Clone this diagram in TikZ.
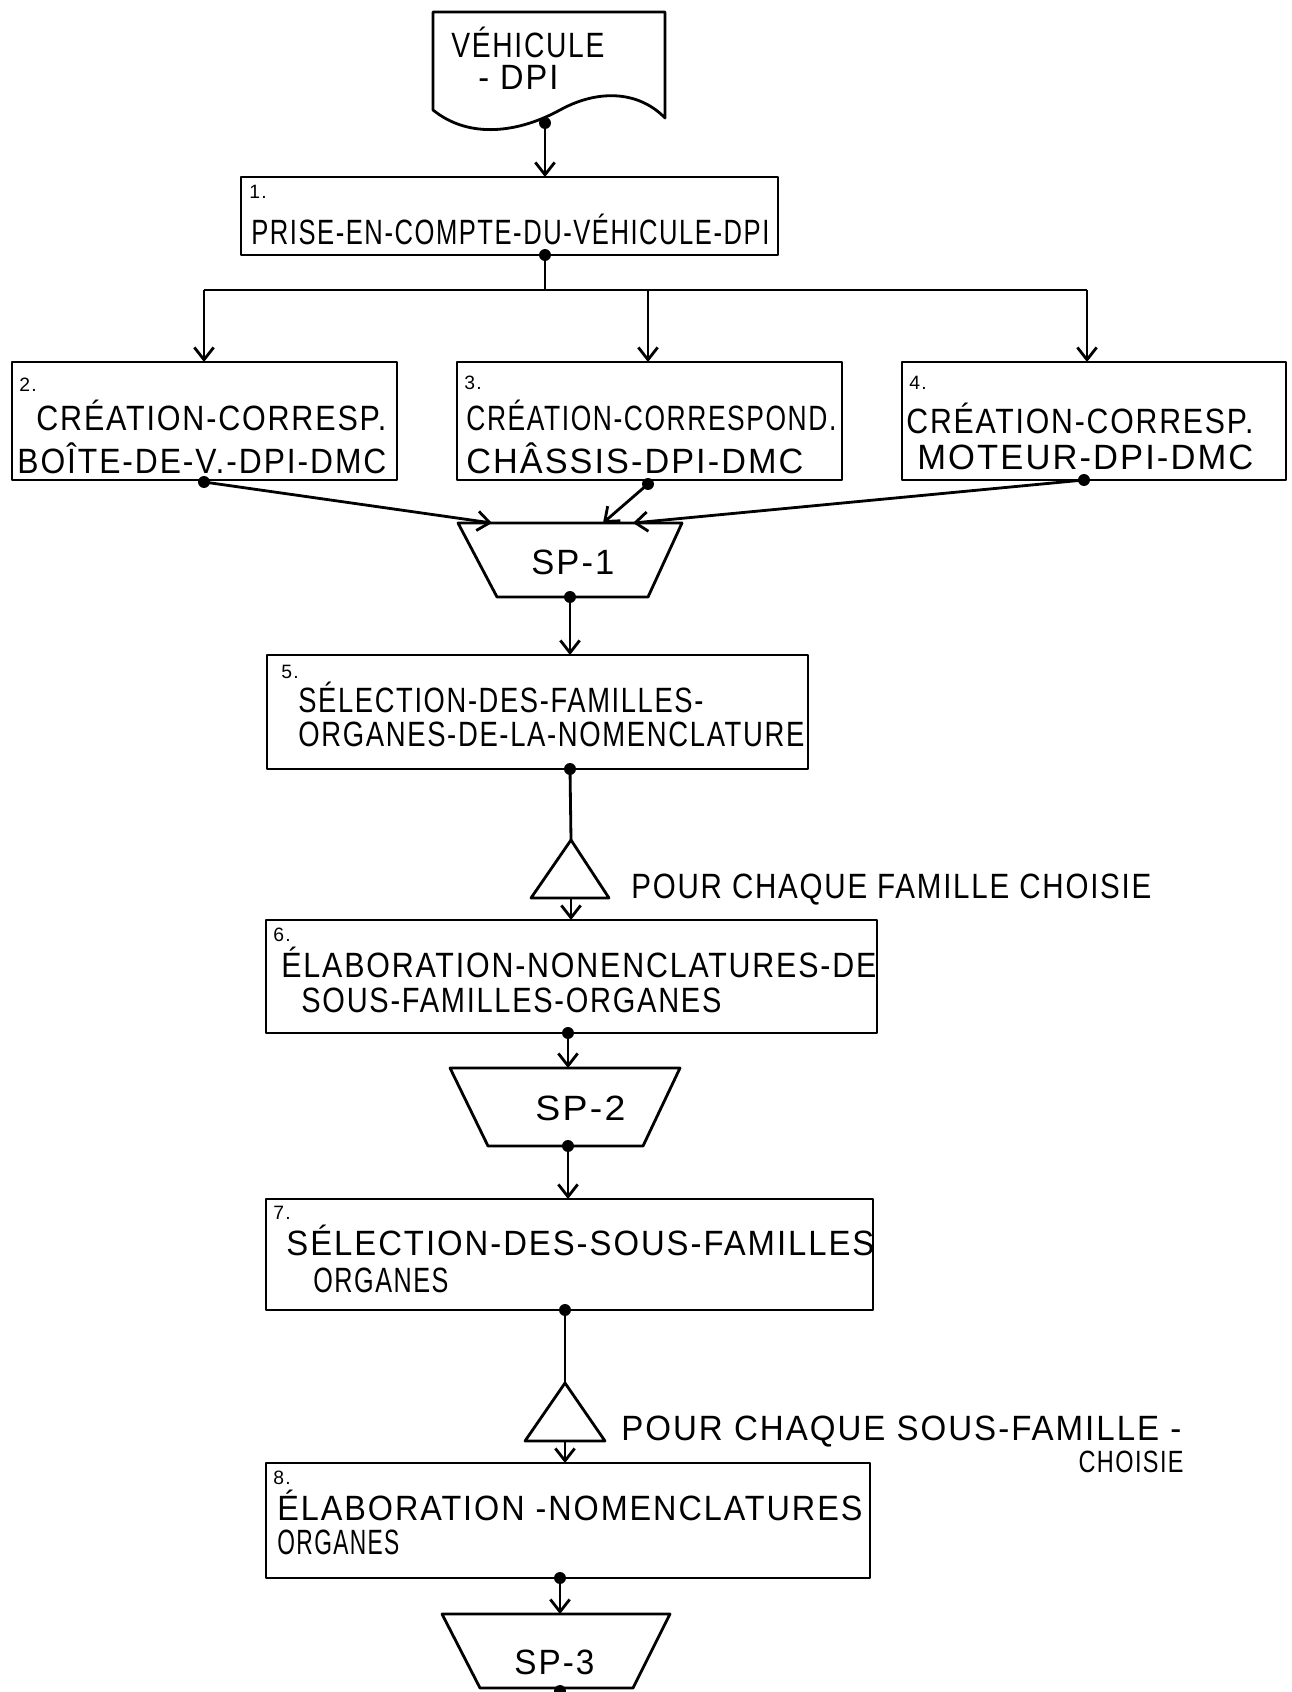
\documentclass[tikz,border=0pt]{standalone}
\usepackage{fontspec}
\usepackage{graphicx}
\setmainfont[LetterSpace=6]{Liberation Sans}
\usetikzlibrary{arrows.meta,calc}
\newcommand\hsz[1]{\fontsize{#1}{#1}\selectfont}
\newlength\tmpw
% fit text to a width given in px (0.02cm each), stretched vertically
\newcommand\fitw[2]{\settowidth\tmpw{#2}\pgfmathsetmacro\sfac{(#1*0.02cm)/\tmpw}\scalebox{\sfac}[1.25]{#2}}
\newcommand\mybox[5]{\node[boxst, minimum width={(#4-#2)*0.02cm}, minimum height={(#5-#3)*0.02cm}] (#1) at ({(#2+#4)/2},{(#3+#5)/2}) {};}
\begin{document}
\begin{tikzpicture}[x=0.02cm,y=-0.02cm, line width=1.6pt, line join=round,
  boxst/.style={draw, rectangle, inner sep=0pt, outer sep=0pt},
  lbl/.style={anchor=west, inner sep=0pt, font=\hsz{16}},
  num/.style={anchor=west, inner sep=0pt, font=\hsz{11}},
  arr/.style={-{Straight Barb[length=7pt,width=11pt,line width=1.6pt]}}]
\useasboundingbox (0,0) rectangle (1291,1692);
% document
\draw (433,12) -- (665,12) -- (665,118) .. controls (640,92) and (600,88) .. (560,110) .. controls (520,132) and (470,140) .. (433,110) -- cycle;
\node[lbl] (doct1) at (450,42) {\fitw{153}{VÉHICULE}};
\node[lbl] (doct2) at (477,77) {\fitw{80}{- DPI}};
\coordinate (docd) at (545,123);
% boxes
\mybox{b1}{241}{177}{778}{255}
\mybox{b2}{12}{362}{397}{480}
\mybox{b3}{457}{362}{842}{480}
\mybox{b4}{902}{362}{1286}{480}
\mybox{b5}{267}{655}{808}{769}
\mybox{b6}{266}{920}{877}{1033}
\mybox{b7}{266}{1199}{873}{1310}
\mybox{b8}{266}{1463}{870}{1578}
% texts
\node[num] (n1) at (248,192) {1.};
\node[lbl] (t1) at (250,229) {\fitw{518}{PRISE-EN-COMPTE-DU-VÉHICULE-DPI}};
\node[num] (n2) at (18,385) {2.};
\node[lbl] (t2a) at (35,415) {\fitw{350}{CRÉATION-CORRESP.}};
\node[lbl] (t2b) at (16,458) {\fitw{369}{BOÎTE-DE-V.-DPI-DMC}};
\node[num] (n3) at (463,383) {3.};
\node[lbl] (t3a) at (465,415) {\fitw{370}{CRÉATION-CORRESPOND.}};
\node[lbl] (t3b) at (465,458) {\fitw{337}{CHÂSSIS-DPI-DMC}};
\node[num] (n4) at (908,383) {4.};
\node[lbl] (t4a) at (905,418) {\fitw{347}{CRÉATION-CORRESP.}};
\node[lbl] (t4b) at (916,457) {\fitw{336}{MOTEUR-DPI-DMC}};
\node[num] (n5) at (280,672) {5.};
\node[lbl] (t5a) at (297,697) {\fitw{405}{SÉLECTION-DES-FAMILLES-}};
\node[lbl] (t5b) at (297,734) {\fitw{506}{ORGANES-DE-LA-NOMENCLATURE}};
\node[num] (n6) at (272,935) {6.};
\node[lbl] (t6a) at (280,962) {\fitw{595}{ÉLABORATION-NONENCLATURES-DE}};
\node[lbl] (t6b) at (300,1000) {\fitw{420}{SOUS-FAMILLES-ORGANES}};
\node[num] (n7) at (272,1213) {7.};
\node[lbl] (t7a) at (285,1240) {\fitw{588}{SÉLECTION-DES-SOUS-FAMILLES}};
\node[lbl] (t7b) at (312,1280) {\fitw{135}{ORGANES}};
\node[num] (n8) at (272,1478) {8.};
\node[lbl] (t8a) at (276,1505) {\fitw{585}{ÉLABORATION -NOMENCLATURES}};
\node[lbl] (t8b) at (276,1542) {\fitw{122}{ORGANES}};
% trapezoids
\draw (458,523) -- (682,523) -- (648,597) -- (497,597) -- cycle;
\node[lbl] (sp1) at (530,562) {\fitw{83}{SP-1}};
\draw (450,1068) -- (680,1068) -- (643,1146) -- (488,1146) -- cycle;
\node[lbl] (sp2) at (534,1108) {\fitw{90}{SP-2}};
\draw (442,1614) -- (670,1614) -- (633,1688) -- (480,1688) -- cycle;
\node[lbl] (sp3) at (513,1662) {\fitw{80}{SP-3}};
% triangles
\draw (571,840) -- (609,898) -- (531,898) -- cycle;
\node[lbl] (tr1) at (630,890) {\fitw{520}{POUR CHAQUE FAMILLE CHOISIE}};
\draw (565,1383) -- (605,1441) -- (525,1441) -- cycle;
\node[lbl] (tr2a) at (620,1432) {\fitw{560}{POUR CHAQUE SOUS-FAMILLE -}};
\node[anchor=east, inner sep=0pt] (tr2b) at (1185,1462) {\fitw{105}{\hsz{14}CHOISIE}};
% coordinates
\coordinate (b1d) at (545,255);
\coordinate (br) at (545,290);
\coordinate (brl) at (204,290);
\coordinate (brm) at (648,290);
\coordinate (brr) at (1087,290);
\coordinate (b2d) at (204,482);
\coordinate (b3d) at (648,484);
\coordinate (b4d) at (1084,480);
\coordinate (sp1a) at (492,523);
\coordinate (sp1b) at (603,523);
\coordinate (sp1c) at (633,523);
\coordinate (sp1d) at (570,597);
\coordinate (b5d) at (570,769);
\coordinate (tr1t) at (571,840);
\coordinate (tr1b) at (571,898);
\coordinate (b6d) at (568,1033);
\coordinate (sp2t) at (568,1068);
\coordinate (sp2d) at (568,1146);
\coordinate (b7d) at (565,1310);
\coordinate (tr2t) at (565,1383);
\coordinate (tr2b) at (565,1441);
\coordinate (b8d) at (560,1578);
\coordinate (sp3t) at (560,1614);
\coordinate (sp3d) at (560,1691);
% connectors
\draw[arr] (docd) -- (docd |- b1.north);
\draw (b1d) -- (br);
\draw (brl) -- (brr);
\draw[arr] (brl) -- (brl |- b2.north);
\draw[arr] (brm) -- (brm |- b3.north);
\draw[arr] (brr) -- (brr |- b4.north);
\draw[arr] (b2d) -- (sp1a);
\draw[arr] (b3d) -- (sp1b);
\draw[arr] (b4d) -- (sp1c);
\draw[arr] (sp1d) -- (sp1d |- b5.north);
\draw (b5d) -- (tr1t);
\draw[arr] (tr1b) -- (tr1b |- b6.north);
\draw[arr] (b6d) -- (sp2t);
\draw[arr] (sp2d) -- (sp2d |- b7.north);
\draw (b7d) -- (tr2t);
\draw[arr] (tr2b) -- (tr2b |- b8.north);
\draw[arr] (b8d) -- (sp3t);
% dots
\foreach \c in {docd,b1d,b2d,b3d,b4d,sp1d,b5d,b6d,sp2d,b7d,b8d,sp3d}
  \fill (\c) circle (3.4pt);
\end{tikzpicture}
\end{document}
